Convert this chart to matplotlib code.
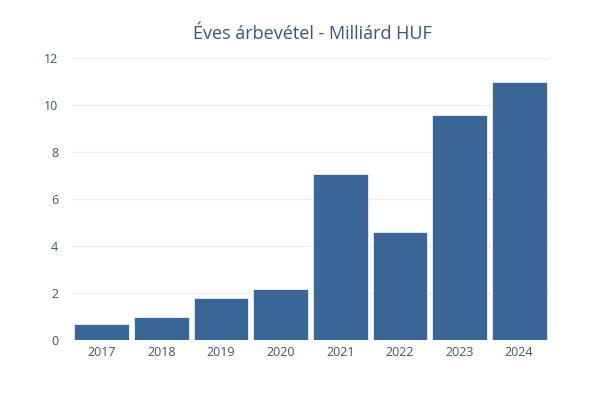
import matplotlib
matplotlib.use("Agg")
from matplotlib import pyplot as plt

years = ["2017", "2018", "2019", "2020", "2021", "2022", "2023", "2024"]
revenue = [0.7, 1.0, 1.8, 2.2, 7.1, 4.6, 9.6, 11.0]
y_ticks = [0, 2, 4, 6, 8, 10, 12]

bar_color = "#3b6796"
text_color = "#3d5478"

plt.rcParams["font.family"] = ["Open Sans", "DejaVu Sans"]

fig = plt.figure(figsize=(6, 4), dpi=100)
ax = fig.add_axes([0.12, 0.149, 0.795, 0.705])

ax.bar(range(len(years)), revenue, width=0.92, color=bar_color,
       edgecolor="white", linewidth=0.5, zorder=3)

ax.set_xlim(-0.5, len(years) - 0.5)
ax.set_ylim(0, 12)
ax.set_yticks(y_ticks)
ax.set_yticklabels([str(t) for t in y_ticks])
ax.set_xticks(range(len(years)))
ax.set_xticklabels(years)

ax.grid(axis="y", color="#ececec", linewidth=1, zorder=0)
for s in ax.spines.values():
    s.set_visible(False)
ax.tick_params(axis="both", length=0, labelsize=9, colors=text_color)
ax.tick_params(axis="y", pad=10)
ax.tick_params(axis="x", pad=4)

fig.text(0.52, 0.915, "Éves árbevétel - Milliárd HUF", ha="center", va="center",
         fontsize=13, color=text_color)

fig.savefig("out.png", dpi=100, facecolor="white")
